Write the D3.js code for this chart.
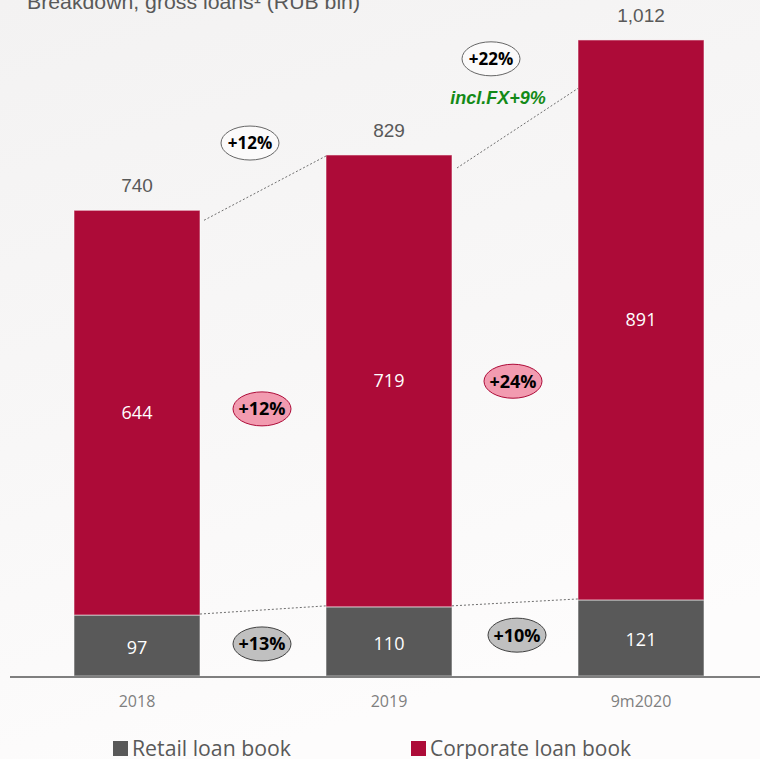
<!DOCTYPE html>
<html>
<head>
<meta charset="utf-8">
<script src="https://cdn.jsdelivr.net/npm/d3@7"></script>
<style>
  html, body { margin: 0; padding: 0; }
  body { width: 760px; height: 759px; overflow: hidden; }
</style>
</head>
<body>
<svg id="chart" width="760" height="759"></svg>
<script>
// ---- data ----
const categories = ["2018", "2019", "9m2020"];
const retail = [97, 110, 121];
const corporate = [644, 719, 891];
const totals = ["740", "829", "1,012"];
const seriesNames = ["Retail loan book", "Corporate loan book"];
const corpGrowth = ["+12%", "+24%"];
const retailGrowth = ["+13%", "+10%"];
const totalGrowth = ["+12%", "+22%"];
const fxNote = "incl.FX+9%";

// ---- layout ----
const W = 760, H = 759;
const C_CORP = "#ad0b38", C_RET = "#595959";
const svg = d3.select("#chart");

const defs = svg.append("defs");
const bg = defs.append("linearGradient").attr("id", "bg").attr("x1", 0).attr("y1", 0).attr("x2", 0.3).attr("y2", 1);
bg.append("stop").attr("offset", "0%").attr("stop-color", "#f3f2f2");
bg.append("stop").attr("offset", "55%").attr("stop-color", "#f8f7f7");
bg.append("stop").attr("offset", "100%").attr("stop-color", "#fdfcfc");
svg.append("rect").attr("width", W).attr("height", H).attr("fill", "url(#bg)");

const x = d3.scaleBand().domain(categories).range([11, 767]).paddingInner(0.5).paddingOuter(0.25);
const y = d3.scaleLinear().domain([0, 1000]).range([676, 47.5]);
const bw = x.bandwidth();

// title
svg.append("text").attr("x", 27).attr("y", 9)
  .attr("font-family", "Liberation Sans, Arial, sans-serif").attr("font-size", 20)
  .attr("textLength", 333).attr("lengthAdjust", "spacingAndGlyphs")
  .attr("fill", "#595959").text("Breakdown, gross loans\u00B9 (RUB bln)");

// stacks
const rows = categories.map((c, i) => ({ cat: c, retail: retail[i], corporate: corporate[i] }));
const stack = d3.stack().keys(["retail", "corporate"])(rows);
const colors = [C_RET, C_CORP];

stack.forEach((layer, li) => {
  svg.append("g").selectAll("rect").data(layer).join("rect")
    .attr("x", d => x(d.data.cat))
    .attr("y", d => y(d[1]))
    .attr("width", bw)
    .attr("height", d => y(d[0]) - y(d[1]))
    .attr("fill", colors[li])
    .attr("stroke", "rgba(255,255,255,0.55)")
    .attr("stroke-width", 1);
  svg.append("g").selectAll("text").data(layer).join("text")
    .attr("x", d => x(d.data.cat) + bw / 2)
    .attr("y", d => (y(d[0]) + y(d[1])) / 2 + (li === 0 ? 2 : 0))
    .attr("dy", "0.36em")
    .attr("text-anchor", "middle")
    .attr("font-family", "Open Sans, Noto Sans, sans-serif")
    .attr("font-size", 18)
    .attr("fill", "#ffffff")
    .text(d => d[1] - d[0]);
});

// totals
svg.append("g").selectAll("text").data(categories).join("text")
  .attr("x", c => x(c) + bw / 2)
  .attr("y", (c, i) => y(retail[i] + corporate[i]) - 25)
  .attr("dy", "0.36em")
  .attr("text-anchor", "middle")
  .attr("font-family", "Liberation Sans, Arial, sans-serif")
  .attr("font-size", 19)
  .attr("fill", "#595959")
  .text((c, i) => totals[i]);

// axis
const axis = d3.axisBottom(x).tickSize(0).tickPadding(20);
const ga = svg.append("g").attr("transform", `translate(0,${y(0)})`).call(axis);
ga.select(".domain").remove();
ga.selectAll("text").attr("font-family", "Open Sans, Noto Sans, sans-serif").attr("font-size", 16).attr("fill", "#7f7f7f");
svg.append("line").attr("x1", 10).attr("x2", 760).attr("y1", y(0) + 1).attr("y2", y(0) + 1)
  .attr("stroke", "#7f7f7f").attr("stroke-width", 2);

// dotted connectors
function conn(x1, y1, x2, y2) {
  svg.append("line").attr("x1", x1).attr("y1", y1).attr("x2", x2).attr("y2", y2)
    .attr("stroke", "#6f6f6f").attr("stroke-width", 1).attr("stroke-dasharray", "2,2");
}
const tot = i => retail[i] + corporate[i];
conn(x(categories[0]) + bw + 4, y(tot(0)) + 10, x(categories[1]), y(tot(1)) + 1);
conn(x(categories[1]) + bw + 5, y(tot(1)) + 13, x(categories[2]), y(935));
conn(x(categories[0]) + bw, y(retail[0]) - 1, x(categories[1]), y(retail[1]) - 1);
conn(x(categories[1]) + bw, y(retail[1]) - 1, x(categories[2]), y(retail[2]) - 1);

// growth ellipses
function badge(cx, cy, label, fill, stroke, size) {
  const g = svg.append("g").attr("transform", `translate(${cx},${cy})`);
  g.append("ellipse").attr("rx", 29).attr("ry", 17).attr("fill", fill).attr("stroke", stroke).attr("stroke-width", 1);
  g.append("text").attr("text-anchor", "middle").attr("dy", "0.36em")
    .attr("font-family", "Open Sans, Noto Sans, sans-serif").attr("font-weight", "bold")
    .attr("font-size", size).attr("fill", "#000").text(label);
}
const gapMid = i => (x(categories[i]) + bw + x(categories[i + 1])) / 2;
badge(gapMid(0) - 13, y(848), totalGrowth[0], "#fbfafa", "#666", 17);
badge(gapMid(1) - 24, y(982), totalGrowth[1], "#fbfafa", "#666", 17);
badge(gapMid(0) - 1, y(425), corpGrowth[0], "#f29bb0", "#ad0b38", 18);
badge(gapMid(1) - 2, y(469), corpGrowth[1], "#f29bb0", "#ad0b38", 18);
badge(gapMid(0) - 1, y(51), retailGrowth[0], "#c0c0c0", "#404040", 18);
badge(gapMid(1) + 2, y(65), retailGrowth[1], "#c0c0c0", "#404040", 18);

svg.append("text").attr("x", gapMid(1) - 17).attr("y", y(920)).attr("dy", "0.36em")
  .attr("text-anchor", "middle")
  .attr("font-family", "Liberation Sans, Arial, sans-serif").attr("font-weight", "bold").attr("font-style", "italic")
  .attr("font-size", 18).attr("fill", "#138a17").text(fxNote);

// legend
const leg = svg.append("g");
const legX = [113, 411];
seriesNames.forEach((n, i) => {
  leg.append("rect").attr("x", legX[i]).attr("y", 741).attr("width", 15).attr("height", 15).attr("fill", colors[i]);
  leg.append("text").attr("x", legX[i] + 19).attr("y", 756)
    .attr("font-family", "Open Sans, Noto Sans, sans-serif").attr("font-size", 21)
    .attr("textLength", i === 0 ? 159 : 201).attr("lengthAdjust", "spacingAndGlyphs")
    .attr("fill", "#595959").text(n);
});
</script>
</body>
</html>
